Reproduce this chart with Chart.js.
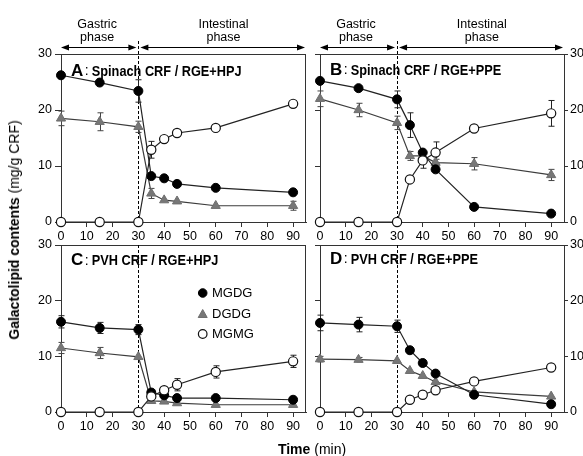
<!DOCTYPE html>
<html><head><meta charset="utf-8">
<script src="https://cdn.jsdelivr.net/npm/chart.js@4.4.0/dist/chart.umd.min.js"></script>
<style>
html,body{margin:0;padding:0;background:#fff;}
#wrap{position:relative;width:583px;height:456px;overflow:hidden;background:#fff;}
canvas{position:absolute;left:0;top:0;}
.lbl{position:absolute;font-family:"Liberation Sans",Arial,sans-serif;color:#000;white-space:nowrap;line-height:1;}
</style></head><body>
<div id="wrap">
<canvas id="cA" width="583" height="456"></canvas>
<canvas id="cB" width="583" height="456"></canvas>
<canvas id="cC" width="583" height="456"></canvas>
<canvas id="cD" width="583" height="456"></canvas>
<div class="lbl" style="left:14px;top:230px;transform:translate(-50%,-50%) rotate(-90deg);font-size:14px;"><b>Galactolipid contents</b> (mg/g CRF)</div>
<div class="lbl" style="left:312px;top:449px;transform:translate(-50%,-50%);font-size:14px;"><b>Time</b> (min)</div>
</div>
<script>
// ---------- data ----------
const times = [0, 15, 30, 35, 40, 45, 60, 90];
const gastricEnd = 30;
const xTickValues = [0, 10, 20, 30, 40, 50, 60, 70, 80, 90];
const yTickValues = [0, 10, 20, 30];
const seriesNames = ['MGDG', 'DGDG', 'MGMG'];
const panelLetters = ['A', 'B', 'C', 'D'];
const panelTitles = ['Spinach CRF / RGE+HPJ', 'Spinach CRF / RGE+PPE', 'PVH CRF / RGE+HPJ', 'PVH CRF / RGE+PPE'];
const phaseLabels = [['Gastric', 'phase'], ['Intestinal', 'phase']];

// Panel A
const mgdgA = [26.2, 24.9, 23.4, 8.2, 7.8, 6.8, 6.1, 5.3];
const dgdgA = [18.5, 17.9, 17.0, 5.1, 3.9, 3.7, 2.9, 2.9];
const mgmgA = [0, 0, 0, 12.9, 14.8, 15.9, 16.8, 21.1];
const mgdgErrA = [0, 0, 2.0, 0, 0, 0, 0, 0];
const dgdgErrA = [1.3, 1.6, 1.0, 0.9, 0, 0, 0, 0.8];
const mgmgErrA = [0, 0, 0, 1.5, 0, 0, 0, 0.6];
// Panel B
const mgdgB = [25.2, 23.9, 21.9, 17.3, 12.4, 9.4, 2.7, 1.5];
const dgdgB = [22.0, 20.0, 17.7, 11.8, 11.8, 10.6, 10.4, 8.4];
const mgmgB = [0, 0, 0, 7.6, 11.0, 12.4, 16.7, 19.4];
const mgdgErrB = [0, 0, 1.5, 2.2, 0, 0, 0, 0];
const dgdgErrB = [1.4, 1.2, 1.2, 0.8, 0, 0.6, 1.1, 1.0];
const mgmgErrB = [0, 0, 0, 0, 1.4, 1.9, 0, 2.3];
// Panel C
const mgdgC = [16.2, 15.1, 14.8, 3.5, 3.0, 2.5, 2.5, 2.2];
const dgdgC = [11.5, 10.6, 9.9, 2.0, 1.9, 1.6, 1.3, 1.3];
const mgmgC = [0, 0, 0, 2.8, 3.9, 4.9, 7.2, 9.1];
const mgdgErrC = [1.1, 1.0, 0.9, 0.5, 0.4, 0, 0, 0.4];
const dgdgErrC = [1.0, 1.0, 0, 0, 0, 0, 0, 0];
const mgmgErrC = [0, 0, 0, 0, 0, 1.1, 1.1, 1.1];
// Panel D
const mgdgD = [16.0, 15.7, 15.4, 11.1, 8.8, 6.9, 3.1, 1.4];
const dgdgD = [9.5, 9.4, 9.2, 7.4, 6.5, 5.4, 3.6, 2.8];
const mgmgD = [0, 0, 0, 2.2, 3.1, 3.9, 5.5, 8.0];
const mgdgErrD = [1.4, 1.3, 1.1, 0, 0, 0, 0, 0];
const dgdgErrD = [0.5, 0.4, 0, 0, 0, 0, 0, 0];
const mgmgErrD = [0, 0, 0, 0, 0, 0, 0, 0];

// ---------- styling ----------
const FONT = '"Liberation Sans", Arial, sans-serif';
const AX = '#333';
const styles = {
  MGDG: {pointStyle: 'circle', pointRadius: 4.5, backgroundColor: '#000', pointBorderColor: '#000', borderColor: '#222', pointBorderWidth: 1},
  DGDG: {pointStyle: 'triangle', pointRadius: 5.3, backgroundColor: '#777', pointBorderColor: '#6e6e6e', borderColor: '#3c3c3c', pointBorderWidth: 1},
  MGMG: {pointStyle: 'circle', pointRadius: 4.6, backgroundColor: '#fff', pointBorderColor: '#111', borderColor: '#222', pointBorderWidth: 1.2}
};

function pts(vals) { return times.map((t, i) => ({x: t, y: vals[i]})); }

function makeDatasets(mgdg, dgdg, mgmg) {
  const order = [['MGMG', mgmg], ['MGDG', mgdg], ['DGDG', dgdg]];
  return order.map(([name, vals]) => Object.assign({
    label: name, data: pts(vals), showLine: true, borderWidth: 1.2, tension: 0, clip: false,
    pointBackgroundColor: styles[name].backgroundColor
  }, styles[name]));
}

function drawArrow(ctx, x1, x2, y) {
  ctx.beginPath(); ctx.moveTo(x1 + 4, y); ctx.lineTo(x2 - 4, y); ctx.stroke();
  ctx.beginPath(); ctx.moveTo(x1, y); ctx.lineTo(x1 + 8, y - 3); ctx.lineTo(x1 + 8, y + 3); ctx.closePath(); ctx.fill();
  ctx.beginPath(); ctx.moveTo(x2, y); ctx.lineTo(x2 - 8, y - 3); ctx.lineTo(x2 - 8, y + 3); ctx.closePath(); ctx.fill();
}

function makePlugin(cfg) {
  return {
    id: 'panelDeco' + cfg.letter,
    beforeDatasetsDraw(chart) {
      const ctx = chart.ctx, a = chart.chartArea, xs = chart.scales.x, ys = chart.scales.y;
      ctx.save();
      // frame top (and right)
      ctx.strokeStyle = AX; ctx.lineWidth = 1;
      ctx.beginPath();
      ctx.moveTo(a.left, Math.round(a.top) + 0.5); ctx.lineTo(a.right, Math.round(a.top) + 0.5);
      if (cfg.rightFrame) { ctx.moveTo(Math.round(a.right) - 0.5, a.top); ctx.lineTo(Math.round(a.right) - 0.5, a.bottom); }
      ctx.stroke();
      // dashed phase line
      const xd = Math.round(xs.getPixelForValue(gastricEnd)) + 0.5;
      ctx.strokeStyle = '#000'; ctx.setLineDash([3, 2]);
      ctx.beginPath(); ctx.moveTo(xd, cfg.headers ? 41 : a.top); ctx.lineTo(xd, a.bottom); ctx.stroke();
      ctx.setLineDash([]);
      // error bars
      chart.data.datasets.forEach((ds) => {
        const errs = cfg.errors[ds.label];
        ctx.strokeStyle = ds.label === 'DGDG' ? '#444' : '#222';
        ctx.lineWidth = 1;
        ds.data.forEach((p, i) => {
          const e = errs[i]; if (!e) return;
          const x = Math.round(xs.getPixelForValue(p.x)) + 0.5;
          const y1 = ys.getPixelForValue(p.y + e), y2 = ys.getPixelForValue(Math.max(0, p.y - e));
          ctx.beginPath();
          ctx.moveTo(x, y1); ctx.lineTo(x, y2);
          ctx.moveTo(x - 3, y1); ctx.lineTo(x + 3, y1);
          ctx.moveTo(x - 3, y2); ctx.lineTo(x + 3, y2);
          ctx.stroke();
        });
      });
      ctx.restore();
    },
    afterDraw(chart) {
      const ctx = chart.ctx, a = chart.chartArea, xs = chart.scales.x;
      ctx.save();
      ctx.fillStyle = '#000'; ctx.strokeStyle = '#000'; ctx.lineWidth = 1;
      // phase headers
      if (cfg.headers) {
        ctx.font = '12.5px ' + FONT; ctx.textAlign = 'center'; ctx.textBaseline = 'alphabetic';
        const gx = xs.getPixelForValue(14), ix = xs.getPixelForValue(63);
        ctx.fillText(phaseLabels[0][0], gx, 28); ctx.fillText(phaseLabels[0][1], gx, 41);
        ctx.fillText(phaseLabels[1][0], ix, 28); ctx.fillText(phaseLabels[1][1], ix, 41);
        const y = 47.5, x30 = xs.getPixelForValue(gastricEnd);
        drawArrow(ctx, xs.getPixelForValue(0), x30 - 2, y);
        drawArrow(ctx, x30 + 2, a.right - 1, y);
      }
      // panel title
      ctx.textAlign = 'left'; ctx.textBaseline = 'alphabetic';
      const tx = a.left + 10, ty = a.top + cfg.titleDy;
      ctx.font = 'bold 17px ' + FONT;
      ctx.fillText(cfg.letter, tx, ty);
      const w = ctx.measureText(cfg.letter).width;
      ctx.font = '14px ' + FONT;
      ctx.fillText(':', tx + w + 1.5, ty - 0.5);
      ctx.save();
      ctx.translate(tx + w + 8.5, ty);
      ctx.scale(0.85, 1);
      ctx.font = 'bold 15px ' + FONT;
      ctx.fillText(cfg.title, 0, 0);
      ctx.restore();
      // legend
      if (cfg.legend) {
        const mx = a.left + 141.7, txl = a.left + 151;
        const rows = [48, 69, 89];
        seriesNames.forEach((name, i) => {
          const y = a.top + rows[i];
          const s = styles[name];
          ctx.beginPath();
          if (name === 'DGDG') {
            ctx.moveTo(mx, y - 4.5); ctx.lineTo(mx + 4.5, y + 3.5); ctx.lineTo(mx - 4.5, y + 3.5); ctx.closePath();
          } else {
            ctx.arc(mx, y, 4.3, 0, Math.PI * 2);
          }
          ctx.fillStyle = s.backgroundColor; ctx.fill();
          ctx.strokeStyle = s.pointBorderColor; ctx.lineWidth = s.pointBorderWidth; ctx.stroke();
          ctx.fillStyle = '#000'; ctx.font = '13px ' + FONT; ctx.textBaseline = 'middle';
          ctx.fillText(name, txl, y + 0.5);
        });
      }
      ctx.restore();
    }
  };
}

function axisX() {
  return {
    type: 'linear', position: 'bottom', min: 0, max: 95,
    afterFit: s => { s.height = 22; },
    afterBuildTicks: s => { s.ticks = xTickValues.map(v => ({value: v})); },
    ticks: {stepSize: 10, includeBounds: false, color: '#000', padding: 2, font: {family: FONT, size: 12.5}, maxRotation: 0, autoSkip: false},
    grid: {drawOnChartArea: false, drawTicks: true, tickLength: 5, color: AX, lineWidth: 1},
    border: {display: true, color: AX, width: 1}
  };
}
function axisY(position, showLabels, width, tickLen) {
  return {
    type: 'linear', position: position, min: 0, max: 30,
    afterFit: s => { s.width = width; },
    afterBuildTicks: s => { s.ticks = yTickValues.map(v => ({value: v})); },
    ticks: {stepSize: 10, color: showLabels ? '#000' : 'rgba(0,0,0,0)', padding: 3, font: {family: FONT, size: 12.5}},
    grid: {drawOnChartArea: false, drawTicks: true, tickLength: tickLen, color: AX, lineWidth: 1},
    border: {display: true, color: AX, width: 1}
  };
}

const panels = [
  {id: 'cA', side: 'left', top: 54, bottom: 222, data: [mgdgA, dgdgA, mgmgA], err: [mgdgErrA, dgdgErrA, mgmgErrA], headers: true, legend: false, titleDy: 21.5},
  {id: 'cB', side: 'right', top: 54, bottom: 222, data: [mgdgB, dgdgB, mgmgB], err: [mgdgErrB, dgdgErrB, mgmgErrB], headers: true, legend: false, titleDy: 20.5},
  {id: 'cC', side: 'left', top: 245, bottom: 412, data: [mgdgC, dgdgC, mgmgC], err: [mgdgErrC, dgdgErrC, mgmgErrC], headers: false, legend: true, titleDy: 20},
  {id: 'cD', side: 'right', top: 245, bottom: 412, data: [mgdgD, dgdgD, mgmgD], err: [mgdgErrD, dgdgErrD, mgmgErrD], headers: false, legend: false, titleDy: 18.5}
];

panels.forEach((p, pi) => {
  const left = p.side === 'left';
  const scales = {x: axisX()};
  let padding;
  if (left) {
    scales.y = axisY('left', true, 28, 6);
    padding = {left: 61 - 28, right: 583 - 306, top: p.top, bottom: 456 - p.bottom - 22};
  } else {
    scales.y = axisY('left', false, 8, 5);
    scales.y2 = axisY('right', true, 19, 4);
    scales.y2.ticks.padding = 2;
    padding = {left: 320 - 8, right: 0, top: p.top, bottom: 456 - p.bottom - 22};
  }
  const cfg = {
    letter: panelLetters[pi], title: panelTitles[pi], headers: p.headers, legend: p.legend,
    rightFrame: left, titleDy: p.titleDy,
    errors: {MGDG: p.err[0], DGDG: p.err[1], MGMG: p.err[2]}
  };
  new Chart(document.getElementById(p.id), {
    type: 'scatter',
    data: {datasets: makeDatasets(p.data[0], p.data[1], p.data[2])},
    options: {
      responsive: false, animation: false, devicePixelRatio: 1, events: [],
      layout: {padding: padding},
      plugins: {legend: {display: false}, tooltip: {enabled: false}, title: {display: false}},
      scales: scales
    },
    plugins: [makePlugin(cfg)]
  });
});
</script>
</body></html>
